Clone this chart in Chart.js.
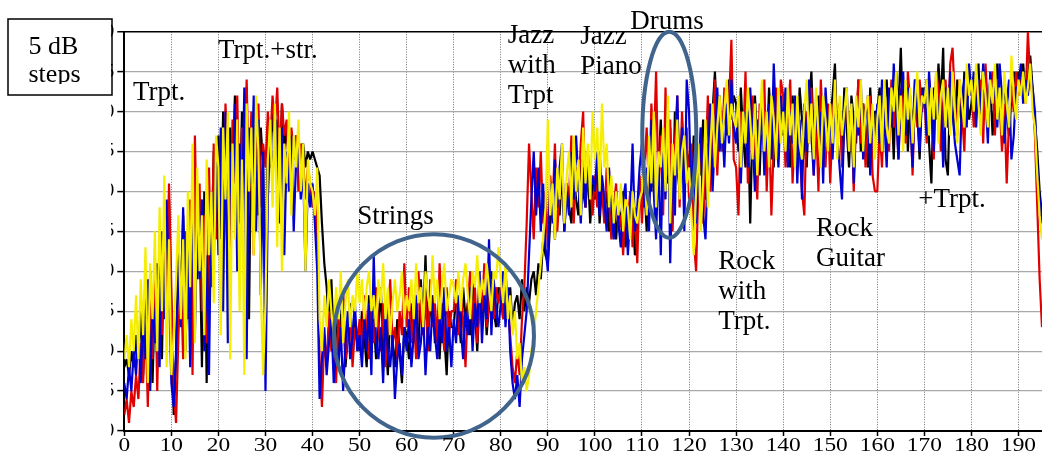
<!DOCTYPE html>
<html>
<head>
<meta charset="utf-8">
<script src="https://cdn.jsdelivr.net/npm/chart.js@4.4.1/dist/chart.umd.min.js"></script>
<style>
  html, body { margin: 0; padding: 0; background: #fff; }
  #wrap { width: 1042px; height: 457px; }
</style>
</head>
<body>
<div id="wrap"><canvas id="c" width="1042" height="457"></canvas></div>
<script>
// Level traces sampled every half unit along the x axis (0 … 195), in dB units (0 … 50).
const X_STEP = 0.5;
const xTickValues = [0, 10, 20, 30, 40, 50, 60, 70, 80, 90, 100, 110, 120, 130, 140, 150, 160, 170, 180, 190];
const yTickValues = [0, 5, 10, 15, 20, 25, 30, 35, 40, 45, 50];

const yellowDb = [
  9, 12, 8, 14, 10, 17, 9, 19, 12, 23,   6, 21, 14, 25, 10, 28, 15, 32, 8, 24,
  7, 12, 19, 27, 14, 24, 9, 30, 18, 36,   11, 33, 20, 27, 12, 34, 22, 30, 16, 37,
  33, 12, 38, 29, 40, 9, 36, 24, 39, 15,   34, 7, 41, 30, 38, 22, 42, 35, 18, 7,
  16, 34, 39, 28, 41, 23, 38, 20, 36, 31,   40, 27, 37, 33, 39, 30, 36, 20, 34, 31,
  30, 27, 33, 14, 10, 17, 13, 19, 15, 12,   18, 14, 20, 11, 16, 19, 13, 17, 15, 20,
  16, 19, 14, 18, 20, 15, 17, 13, 19, 16,   21, 14, 18, 12, 16, 19, 15, 17, 20, 14,
  17, 15, 19, 14, 21, 16, 18, 13, 20, 17,   15, 22, 16, 19, 14, 18, 21, 15, 17, 19,
  18, 16, 20, 15, 19, 21, 17, 14, 20, 18,   22, 16, 19, 17, 21, 18, 15, 20, 19, 23,
  19, 16, 21, 14, 17, 12, 15, 9, 11, 6,   8, 5, 7, 10, 12, 15, 18, 21, 24, 28,
  39, 27, 31, 24, 33, 29, 36, 26, 32, 35,   28, 37, 30, 34, 27, 38, 31, 36, 29, 40,
  34, 38, 30, 41, 33, 36, 28, 32, 26, 30,   27, 31, 25, 29, 28, 24, 30, 27, 26, 29,
  30, 34, 27, 37, 31, 40, 28, 35, 33, 38,   30, 42, 26, 36, 32, 39, 29, 35, 37, 31,
  33, 27, 22, 30, 36, 25, 31, 39, 28, 35,   41, 33, 38, 42, 36, 40, 44, 37, 41, 39,
  38, 42, 33, 40, 36, 43, 39, 34, 41, 32,   38, 44, 35, 40, 33, 42, 39, 34, 43, 36,
  40, 35, 43, 37, 41, 33, 42, 36, 34, 40,   44, 36, 41, 34, 43, 37, 33, 42, 39, 35,
  41, 36, 44, 34, 42, 37, 40, 43, 35, 41,   33, 42, 38, 44, 35, 40, 42, 36, 41, 34,
  39, 42, 35, 44, 38, 36, 43, 40, 45, 37,   42, 35, 44, 39, 43, 36, 41, 45, 38, 42,
  41, 44, 37, 43, 39, 45, 36, 42, 44, 38,   43, 37, 45, 40, 36, 44, 41, 38, 46, 42,
  44, 40, 46, 41, 37, 45, 42, 38, 44, 41,   46, 39, 43, 37, 45, 41, 38, 47, 42, 39,
  44, 42, 45, 41, 43, 46, 40, 38, 32, 27, 24
];

const blueDb = [
  6, 4, 8, 5, 10, 7, 13, 6, 16, 9,   19, 5, 17, 11, 21, 8, 25, 14, 29, 18,
  6, 3, 10, 21, 13, 28, 17, 24, 8, 31,   12, 26, 19, 29, 10, 22, 7, 30, 21, 35,
  22, 38, 15, 40, 11, 35, 28, 41, 20, 36,   26, 43, 9, 38, 31, 42, 25, 39, 17, 35,
  5, 29, 37, 31, 40, 34, 26, 38, 22, 35,   30, 37, 25, 34, 36, 29, 33, 20, 31, 28,
  31, 26, 20, 4, 9, 13, 7, 11, 14, 6,   10, 8, 13, 5, 11, 15, 9, 12, 16, 10,
  12, 8, 14, 10, 16, 7, 22, 11, 9, 13,   6, 15, 10, 8, 12, 4, 9, 11, 7, 13,
  10, 14, 8, 12, 17, 9, 11, 15, 7, 13,   10, 16, 12, 9, 14, 11, 18, 10, 13, 8,
  14, 11, 17, 13, 9, 15, 12, 18, 10, 16,   13, 20, 11, 17, 14, 24, 12, 19, 15, 13,
  16, 20, 13, 18, 10, 6, 4, 7, 3, 9,   12, 15, 22, 29, 35, 27, 33, 25, 31, 23,
  20, 31, 26, 34, 28, 33, 36, 25, 30, 27,   35, 29, 37, 31, 26, 33, 28, 35, 30, 32,
  30, 35, 27, 32, 29, 25, 33, 28, 24, 30,   26, 23, 29, 31, 22, 27, 36, 25, 28, 33,
  36, 28, 33, 25, 39, 30, 24, 35, 22, 37,   29, 41, 21, 34, 27, 42, 31, 38, 25, 44,
  40, 29, 35, 26, 32, 38, 27, 24, 34, 41,   30, 37, 43, 35, 39, 33, 41, 36, 44, 38,
  36, 41, 31, 39, 40, 33, 43, 37, 30, 39,   35, 42, 32, 38, 41, 34, 46, 38, 33, 42,
  38, 43, 33, 40, 36, 42, 31, 39, 29, 41,   35, 44, 37, 32, 42, 36, 40, 31, 43, 38,
  40, 34, 42, 37, 33, 29, 39, 43, 35, 41,   31, 40, 37, 44, 34, 39, 42, 32, 40, 36,
  41, 36, 44, 39, 33, 43, 38, 46, 40, 34,   42, 45, 37, 43, 39, 33, 44, 40, 35, 42,
  43, 37, 45, 40, 35, 44, 39, 42, 33, 43,   38, 45, 40, 36, 34, 32, 42, 44, 38, 46,
  42, 45, 38, 44, 40, 46, 42, 36, 45, 41,   44, 38, 46, 42, 36, 41, 44, 34, 37, 43,
  43, 46, 41, 44, 42, 45, 43, 40, 33, 29, 26
];

const redDb = [
  2, 4, 1, 5, 3, 7, 4, 11, 6, 14,   3, 18, 9, 22, 5, 19, 12, 26, 16, 31,
  18, 5, 1, 12, 20, 9, 25, 14, 29, 7,   37, 22, 31, 15, 27, 11, 33, 18, 36, 24,
  30, 37, 25, 41, 34, 23, 39, 31, 42, 27,   38, 33, 44, 29, 40, 22, 37, 41, 28, 36,
  33, 40, 36, 42, 38, 43, 34, 41, 37, 39,   32, 38, 35, 37, 30, 36, 34, 29, 33, 31,
  28, 30, 24, 9, 3, 12, 8, 15, 10, 13,   6, 14, 11, 17, 9, 12, 15, 8, 13, 11,
  14, 10, 17, 12, 9, 15, 11, 18, 13, 10,   16, 8, 14, 19, 11, 13, 9, 15, 12, 21,
  13, 18, 11, 15, 9, 20, 14, 12, 17, 10,   19, 13, 16, 11, 21, 14, 10, 18, 12, 15,
  15, 19, 12, 17, 14, 8, 16, 20, 13, 18,   11, 17, 15, 21, 13, 16, 19, 14, 18, 16,
  18, 14, 20, 16, 12, 8, 6, 10, 7, 14,   18, 26, 36, 30, 24, 33, 28, 35, 26, 30,
  23, 32, 28, 36, 25, 30, 34, 27, 31, 29,   37, 26, 33, 30, 36, 40, 28, 34, 31, 27,
  32, 28, 35, 30, 26, 33, 29, 24, 28, 31,   25, 27, 22, 29, 26, 30, 23, 28, 21, 32,
  26, 33, 38, 29, 41, 35, 45, 30, 37, 27,   43, 32, 39, 25, 36, 42, 28, 40, 34, 38,
  29, 36, 24, 20, 31, 38, 26, 33, 42, 30,   37, 44, 32, 40, 35, 43, 38, 41, 49, 34,
  33, 27, 40, 36, 45, 31, 38, 42, 35, 29,   41, 37, 44, 30, 39, 27, 36, 43, 34, 44,
  42, 33, 39, 44, 31, 38, 41, 35, 30, 27,   40, 36, 43, 32, 39, 30, 44, 37, 33, 41,
  31, 39, 43, 36, 41, 33, 38, 42, 35, 40,   30, 39, 44, 36, 41, 33, 38, 42, 32, 30,
  30, 38, 33, 42, 39, 35, 44, 38, 41, 34,   43, 40, 36, 45, 41, 32, 42, 38, 44, 40,
  42, 36, 44, 40, 34, 45, 43, 35, 41, 44,   38, 46, 48, 41, 37, 44, 40, 35, 45, 43,
  43, 38, 45, 41, 44, 36, 46, 40, 43, 45,   37, 44, 41, 35, 41, 31, 39, 43, 40, 45,
  42, 45, 43, 41, 50, 44, 42, 37, 28, 19, 13
];

const blackDb = [
  8, 9, 7, 10, 8, 12, 9, 15, 7, 18,   10, 20, 6, 17, 12, 23, 9, 27, 14, 29,
  14, 2, 9, 24, 16, 27, 10, 22, 28, 13,   33, 19, 25, 8, 30, 6, 26, 20, 35, 27,
  37, 24, 40, 33, 19, 38, 30, 42, 35, 26,   40, 36, 43, 14, 39, 31, 41, 27, 38, 33,
  15, 38, 33, 40, 36, 39, 31, 41, 35, 38,   33, 36, 34, 37, 31, 35, 36, 33, 35, 34,
  35, 34, 33, 32, 26, 21, 18, 13, 19, 11,   15, 9, 14, 17, 8, 12, 16, 10, 14, 12,
  10, 15, 12, 8, 17, 11, 14, 9, 13, 18,   10, 12, 7, 15, 11, 8, 14, 10, 6, 13,
  12, 9, 16, 11, 14, 10, 19, 13, 22, 12,   15, 17, 11, 14, 9, 16, 12, 7, 15, 13,
  13, 17, 15, 11, 18, 14, 16, 12, 19, 15,   10, 17, 14, 18, 12, 16, 20, 15, 13, 18,
  17, 14, 19, 15, 18, 13, 16, 17, 14, 19,   15, 18, 16, 19, 20, 17, 21, 19, 24, 22,
  21, 26, 30, 24, 29, 27, 33, 25, 31, 28,   26, 32, 29, 27, 34, 30, 28, 33, 26, 31,
  29, 33, 26, 31, 28, 30, 25, 27, 29, 24,   28, 26, 30, 23, 27, 25, 28, 22, 26, 30,
  28, 31, 25, 34, 30, 36, 27, 33, 39, 29,   35, 31, 38, 26, 40, 33, 30, 37, 32, 35,
  34, 30, 37, 28, 35, 32, 39, 29, 36, 33,   40, 45, 38, 42, 36, 41, 37, 44, 39, 42,
  41, 35, 43, 37, 33, 40, 26, 39, 42, 36,   32, 41, 37, 34, 43, 38, 33, 40, 36, 41,
  37, 41, 36, 33, 42, 38, 34, 43, 39, 36,   33, 41, 45, 36, 40, 42, 35, 33, 41, 38,
  39, 42, 46, 36, 41, 35, 43, 38, 33, 42,   39, 36, 44, 35, 41, 38, 33, 43, 37, 40,
  40, 43, 36, 41, 44, 37, 42, 34, 45, 40,   48, 38, 43, 35, 42, 37, 44, 40, 34, 43,
  41, 44, 36, 31, 43, 39, 46, 41, 48, 34,   32, 43, 40, 37, 44, 41, 38, 45, 42, 39,
  41, 44, 40, 46, 38, 43, 45, 39, 44, 37,   42, 46, 42, 38, 44, 40, 37, 42, 45, 43,
  45, 43, 46, 42, 44, 47, 43, 39, 35, 30, 27
];

// Section labels, anchored in axis units (left edge, first baseline); later lines step down 30 px.
const sectionNotes = [
  { lines: ['Trpt.'], x: 1.85, y: 41.4 },
  { lines: ['Trpt.+str.'], x: 19.9, y: 46.75 },
  { lines: ['Strings'], x: 49.5, y: 25.9 },
  { lines: ['Jazz', 'with', 'Trpt'], x: 81.5, y: 48.6 },
  { lines: ['Jazz', 'Piano'], x: 96.9, y: 48.4 },
  { lines: ['Drums'], x: 107.5, y: 50.4 },
  { lines: ['Rock', 'with', 'Trpt.'], x: 126.2, y: 20.25 },
  { lines: ['Rock', 'Guitar'], x: 147.0, y: 24.4 },
  { lines: ['+Trpt.'], x: 168.7, y: 28.1 }
];

// Highlight rings (centre and half-axes in axis units).
const rings = [
  { x: 65.8, y: 11.9, rx: 21.25, ry: 12.75 },
  { x: 115.8, y: 37.1, rx: 5.74, ry: 12.9 }
];

const SERIF = '"Liberation Serif", "Times New Roman", serif';

function trace(values, color) {
  return {
    data: values.map((v, i) => ({ x: i * X_STEP, y: v })),
    borderColor: color,
    borderWidth: 2.2,
    borderJoinStyle: 'bevel',
    pointRadius: 0,
    fill: false,
    tension: 0
  };
}

const overlay = {
  id: 'overlay',
  afterDatasetsDraw(chart) {
    const { ctx, scales: { x, y } } = chart;
    ctx.save();
    ctx.strokeStyle = '#41648c';
    ctx.lineWidth = 4;
    rings.forEach(r => {
      const cx = x.getPixelForValue(r.x);
      const cy = y.getPixelForValue(r.y);
      const rx = Math.abs(x.getPixelForValue(r.x + r.rx) - cx);
      const ry = Math.abs(y.getPixelForValue(r.y + r.ry) - cy);
      ctx.beginPath();
      ctx.ellipse(cx, cy, rx, ry, 0, 0, Math.PI * 2);
      ctx.stroke();
    });
    ctx.fillStyle = '#000';
    ctx.font = '27px ' + SERIF;
    ctx.textAlign = 'left';
    ctx.textBaseline = 'alphabetic';
    sectionNotes.forEach(n => {
      const px = x.getPixelForValue(n.x);
      const py = y.getPixelForValue(n.y);
      n.lines.forEach((t, i) => ctx.fillText(t, px, py + i * 30));
    });
    ctx.restore();
  },
  afterDraw(chart) {
    const { ctx, scales: { x } } = chart;
    ctx.save();
    // the value column left of the axis is masked, leaving only the label edges
    ctx.fillStyle = '#fff';
    ctx.fillRect(0, 0, 111, chart.height);

    // x tick labels, slightly widened serif digits
    ctx.fillStyle = '#000';
    ctx.font = '19px ' + SERIF;
    ctx.textAlign = 'center';
    ctx.textBaseline = 'alphabetic';
    x.ticks.forEach(t => {
      const px = x.getPixelForValue(t.value);
      ctx.save();
      ctx.translate(px, 451);
      ctx.scale(1.23, 1);
      ctx.fillText(String(t.value), 0, 0);
      ctx.restore();
    });

    // step-size key box
    ctx.lineWidth = 1.5;
    ctx.strokeStyle = '#000';
    ctx.strokeRect(8, 19, 104, 76);
    ctx.save();
    ctx.beginPath();
    ctx.rect(8, 19, 104, 65);
    ctx.clip();
    ctx.font = '26px ' + SERIF;
    ctx.textAlign = 'left';
    ctx.fillText('5 dB', 28.5, 54);
    ctx.fillText('steps', 28.5, 82);
    ctx.restore();
    ctx.restore();
  }
};

new Chart(document.getElementById('c'), {
  type: 'line',
  data: {
    datasets: [
      trace(yellowDb, '#f6ee00'),
      trace(blueDb, '#0000d2'),
      trace(redDb, '#e00000'),
      trace(blackDb, '#000000')
    ]
  },
  options: {
    responsive: false,
    devicePixelRatio: 1,
    animation: false,
    layout: { padding: { top: 31.7, left: 0, right: 0, bottom: 0 } },
    plugins: { legend: { display: false }, tooltip: { enabled: false } },
    scales: {
      x: {
        type: 'linear',
        min: 0,
        max: 195,
        afterBuildTicks: s => { s.ticks = xTickValues.map(v => ({ value: v })); },
        afterFit: s => { s.height = 26; },
        ticks: { display: false },
        grid: { color: '#707070', lineWidth: 1, drawTicks: true, tickLength: 5, tickColor: '#000', tickWidth: 1.5 },
        border: { display: true, color: '#000', width: 2, dash: [1, 1.5] }
      },
      y: {
        type: 'linear',
        min: 0,
        max: 50,
        afterBuildTicks: s => { s.ticks = yTickValues.map(v => ({ value: v })); },
        afterFit: s => { s.width = 124.3; },
        ticks: { color: '#000', padding: 3, font: { family: SERIF, size: 19 } },
        grid: {
          color: c => (c.tick && c.tick.value === 50 ? '#000' : '#a9a9a9'),
          lineWidth: c => (c.tick && c.tick.value === 50 ? 1.5 : 1.2),
          drawTicks: true,
          tickLength: 7,
          tickColor: '#000',
          tickWidth: 1.5
        },
        border: { display: true, color: '#000', width: 2 }
      }
    }
  },
  plugins: [overlay]
});
</script>
</body>
</html>
